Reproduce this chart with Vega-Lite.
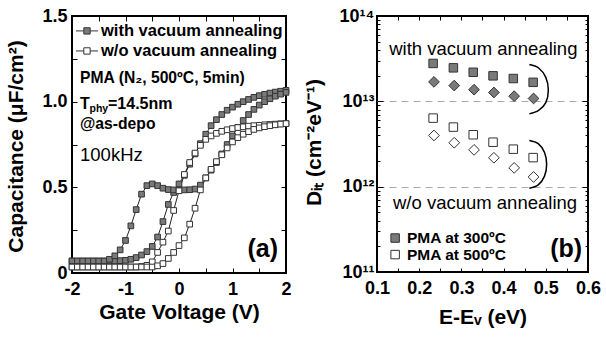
{
"$schema": "https://vega.github.io/schema/vega-lite/v6.json",
"padding": {"left": 3, "top": 6, "right": 4, "bottom": 4},
"background": "white",
"bounds": "flush",
"spacing": 91,
"config": {
 "view": {"stroke": "#000", "strokeWidth": 2},
 "font": "Liberation Sans",
 "axis": {"domain": false, "grid": false, "tickColor": "#000", "tickWidth": 1, "tickSize": -5, "labelFont": "Liberation Sans", "labelFontWeight": "bold", "labelFontSize": 18, "labelColor": "#000", "labelPadding": 10, "titleFont": "Liberation Sans", "titleFontWeight": "bold", "titleFontSize": 21, "titleColor": "#000", "labelOverlap": false, "labelFlush": false},
 "text": {"font": "Liberation Sans", "color": "#000"}
},
"datasets": {
 "cv": [
  {"c":"A","t":"with","V":-2,"C":0.07},{"c":"A","t":"with","V":-1.9,"C":0.07},{"c":"A","t":"with","V":-1.8,"C":0.07},{"c":"A","t":"with","V":-1.7,"C":0.07},{"c":"A","t":"with","V":-1.6,"C":0.07},{"c":"A","t":"with","V":-1.5,"C":0.07},{"c":"A","t":"with","V":-1.4,"C":0.07},{"c":"A","t":"with","V":-1.3,"C":0.07},{"c":"A","t":"with","V":-1.2,"C":0.07},{"c":"A","t":"with","V":-1.1,"C":0.072},{"c":"A","t":"with","V":-1,"C":0.074},{"c":"A","t":"with","V":-0.9,"C":0.08},{"c":"A","t":"with","V":-0.8,"C":0.09},{"c":"A","t":"with","V":-0.7,"C":0.105},{"c":"A","t":"with","V":-0.6,"C":0.125},{"c":"A","t":"with","V":-0.5,"C":0.155},{"c":"A","t":"with","V":-0.4,"C":0.21},{"c":"A","t":"with","V":-0.3,"C":0.3},{"c":"A","t":"with","V":-0.2,"C":0.4},{"c":"A","t":"with","V":-0.1,"C":0.47},{"c":"A","t":"with","V":0,"C":0.52},{"c":"A","t":"with","V":0.1,"C":0.57},{"c":"A","t":"with","V":0.2,"C":0.635},{"c":"A","t":"with","V":0.3,"C":0.695},{"c":"A","t":"with","V":0.4,"C":0.755},{"c":"A","t":"with","V":0.5,"C":0.81},{"c":"A","t":"with","V":0.6,"C":0.86},{"c":"A","t":"with","V":0.7,"C":0.895},{"c":"A","t":"with","V":0.8,"C":0.925},{"c":"A","t":"with","V":0.9,"C":0.95},{"c":"A","t":"with","V":1,"C":0.968},{"c":"A","t":"with","V":1.1,"C":0.985},{"c":"A","t":"with","V":1.2,"C":1.0},{"c":"A","t":"with","V":1.3,"C":1.013},{"c":"A","t":"with","V":1.4,"C":1.025},{"c":"A","t":"with","V":1.5,"C":1.035},{"c":"A","t":"with","V":1.6,"C":1.043},{"c":"A","t":"with","V":1.7,"C":1.05},{"c":"A","t":"with","V":1.8,"C":1.056},{"c":"A","t":"with","V":1.9,"C":1.061},{"c":"A","t":"with","V":2,"C":1.066},
  {"c":"B","t":"with","V":-2,"C":0.07},{"c":"B","t":"with","V":-1.9,"C":0.07},{"c":"B","t":"with","V":-1.8,"C":0.07},{"c":"B","t":"with","V":-1.7,"C":0.07},{"c":"B","t":"with","V":-1.6,"C":0.07},{"c":"B","t":"with","V":-1.5,"C":0.07},{"c":"B","t":"with","V":-1.4,"C":0.07},{"c":"B","t":"with","V":-1.3,"C":0.08},{"c":"B","t":"with","V":-1.2,"C":0.1},{"c":"B","t":"with","V":-1.1,"C":0.135},{"c":"B","t":"with","V":-1,"C":0.19},{"c":"B","t":"with","V":-0.9,"C":0.275},{"c":"B","t":"with","V":-0.8,"C":0.37},{"c":"B","t":"with","V":-0.7,"C":0.46},{"c":"B","t":"with","V":-0.6,"C":0.51},{"c":"B","t":"with","V":-0.5,"C":0.52},{"c":"B","t":"with","V":-0.4,"C":0.51},{"c":"B","t":"with","V":-0.3,"C":0.495},{"c":"B","t":"with","V":-0.2,"C":0.487},{"c":"B","t":"with","V":-0.1,"C":0.485},{"c":"B","t":"with","V":0,"C":0.485},{"c":"B","t":"with","V":0.1,"C":0.485},{"c":"B","t":"with","V":0.2,"C":0.486},{"c":"B","t":"with","V":0.3,"C":0.49},{"c":"B","t":"with","V":0.4,"C":0.513},{"c":"B","t":"with","V":0.5,"C":0.555},{"c":"B","t":"with","V":0.6,"C":0.6},{"c":"B","t":"with","V":0.7,"C":0.645},{"c":"B","t":"with","V":0.8,"C":0.695},{"c":"B","t":"with","V":0.9,"C":0.75},{"c":"B","t":"with","V":1,"C":0.8},{"c":"B","t":"with","V":1.1,"C":0.85},{"c":"B","t":"with","V":1.2,"C":0.89},{"c":"B","t":"with","V":1.3,"C":0.925},{"c":"B","t":"with","V":1.4,"C":0.955},{"c":"B","t":"with","V":1.5,"C":0.98},{"c":"B","t":"with","V":1.6,"C":1.0},{"c":"B","t":"with","V":1.7,"C":1.017},{"c":"B","t":"with","V":1.8,"C":1.032},{"c":"B","t":"with","V":1.9,"C":1.044},{"c":"B","t":"with","V":2,"C":1.054},
  {"c":"C","t":"w/o","V":-2,"C":0.035},{"c":"C","t":"w/o","V":-1.9,"C":0.035},{"c":"C","t":"w/o","V":-1.8,"C":0.035},{"c":"C","t":"w/o","V":-1.7,"C":0.035},{"c":"C","t":"w/o","V":-1.6,"C":0.035},{"c":"C","t":"w/o","V":-1.5,"C":0.035},{"c":"C","t":"w/o","V":-1.4,"C":0.035},{"c":"C","t":"w/o","V":-1.3,"C":0.035},{"c":"C","t":"w/o","V":-1.2,"C":0.035},{"c":"C","t":"w/o","V":-1.1,"C":0.035},{"c":"C","t":"w/o","V":-1,"C":0.035},{"c":"C","t":"w/o","V":-0.9,"C":0.035},{"c":"C","t":"w/o","V":-0.8,"C":0.035},{"c":"C","t":"w/o","V":-0.7,"C":0.038},{"c":"C","t":"w/o","V":-0.6,"C":0.045},{"c":"C","t":"w/o","V":-0.5,"C":0.065},{"c":"C","t":"w/o","V":-0.4,"C":0.12},{"c":"C","t":"w/o","V":-0.3,"C":0.18},{"c":"C","t":"w/o","V":-0.2,"C":0.245},{"c":"C","t":"w/o","V":-0.1,"C":0.365},{"c":"C","t":"w/o","V":0,"C":0.48},{"c":"C","t":"w/o","V":0.1,"C":0.575},{"c":"C","t":"w/o","V":0.2,"C":0.645},{"c":"C","t":"w/o","V":0.3,"C":0.7},{"c":"C","t":"w/o","V":0.4,"C":0.745},{"c":"C","t":"w/o","V":0.5,"C":0.78},{"c":"C","t":"w/o","V":0.6,"C":0.8},{"c":"C","t":"w/o","V":0.7,"C":0.815},{"c":"C","t":"w/o","V":0.8,"C":0.827},{"c":"C","t":"w/o","V":0.9,"C":0.836},{"c":"C","t":"w/o","V":1,"C":0.843},{"c":"C","t":"w/o","V":1.1,"C":0.849},{"c":"C","t":"w/o","V":1.2,"C":0.853},{"c":"C","t":"w/o","V":1.3,"C":0.857},{"c":"C","t":"w/o","V":1.4,"C":0.86},{"c":"C","t":"w/o","V":1.5,"C":0.862},{"c":"C","t":"w/o","V":1.6,"C":0.865},{"c":"C","t":"w/o","V":1.7,"C":0.867},{"c":"C","t":"w/o","V":1.8,"C":0.869},{"c":"C","t":"w/o","V":1.9,"C":0.871},{"c":"C","t":"w/o","V":2,"C":0.873},
  {"c":"D","t":"w/o","V":-2,"C":0.035},{"c":"D","t":"w/o","V":-1.9,"C":0.035},{"c":"D","t":"w/o","V":-1.8,"C":0.035},{"c":"D","t":"w/o","V":-1.7,"C":0.035},{"c":"D","t":"w/o","V":-1.6,"C":0.035},{"c":"D","t":"w/o","V":-1.5,"C":0.035},{"c":"D","t":"w/o","V":-1.4,"C":0.035},{"c":"D","t":"w/o","V":-1.3,"C":0.035},{"c":"D","t":"w/o","V":-1.2,"C":0.035},{"c":"D","t":"w/o","V":-1.1,"C":0.035},{"c":"D","t":"w/o","V":-1,"C":0.035},{"c":"D","t":"w/o","V":-0.9,"C":0.035},{"c":"D","t":"w/o","V":-0.8,"C":0.035},{"c":"D","t":"w/o","V":-0.7,"C":0.035},{"c":"D","t":"w/o","V":-0.6,"C":0.035},{"c":"D","t":"w/o","V":-0.5,"C":0.035},{"c":"D","t":"w/o","V":-0.4,"C":0.042},{"c":"D","t":"w/o","V":-0.3,"C":0.055},{"c":"D","t":"w/o","V":-0.2,"C":0.085},{"c":"D","t":"w/o","V":-0.1,"C":0.12},{"c":"D","t":"w/o","V":0,"C":0.16},{"c":"D","t":"w/o","V":0.1,"C":0.205},{"c":"D","t":"w/o","V":0.2,"C":0.285},{"c":"D","t":"w/o","V":0.3,"C":0.378},{"c":"D","t":"w/o","V":0.4,"C":0.485},{"c":"D","t":"w/o","V":0.5,"C":0.555},{"c":"D","t":"w/o","V":0.6,"C":0.605},{"c":"D","t":"w/o","V":0.7,"C":0.65},{"c":"D","t":"w/o","V":0.8,"C":0.69},{"c":"D","t":"w/o","V":0.9,"C":0.73},{"c":"D","t":"w/o","V":1,"C":0.765},{"c":"D","t":"w/o","V":1.1,"C":0.79},{"c":"D","t":"w/o","V":1.2,"C":0.81},{"c":"D","t":"w/o","V":1.3,"C":0.825},{"c":"D","t":"w/o","V":1.4,"C":0.838},{"c":"D","t":"w/o","V":1.5,"C":0.847},{"c":"D","t":"w/o","V":1.6,"C":0.854},{"c":"D","t":"w/o","V":1.7,"C":0.86},{"c":"D","t":"w/o","V":1.8,"C":0.865},{"c":"D","t":"w/o","V":1.9,"C":0.869},{"c":"D","t":"w/o","V":2,"C":0.872}
 ],
 "legA": [
  {"t":"with","V":-1.925,"V2":-1.514,"Vm":-1.72,"C":1.413,"label":"with vacuum annealing","Vt":-1.458},
  {"t":"w/o","V":-1.925,"V2":-1.514,"Vm":-1.72,"C":1.296,"label":"w/o vacuum annealing","Vt":-1.458}
 ],
 "annA": [
  {"V":-1.85,"C":1.138,"label":"PMA (N₂, 500ºC, 5min)"},
  {"V":-1.85,"C":0.87,"label":"@as-depo"}
 ],
 "tphy": [{"V":-1.85,"C":0.987,"T":"T","sub":"phy","rest":"=14.5nm"}],
 "khz": [{"V":-1.85,"C":0.689,"label":"100kHz"}],
 "pa": [{"V":1.85,"C":0.14,"label":"(a)"}],
 "dit": [
  {"t":"with","s":"square","E":0.233,"D":2.78e13},{"t":"with","s":"square","E":0.281,"D":2.47e13},{"t":"with","s":"square","E":0.328,"D":2.19e13},{"t":"with","s":"square","E":0.375,"D":1.99e13},{"t":"with","s":"square","E":0.423,"D":1.85e13},{"t":"with","s":"square","E":0.47,"D":1.67e13},
  {"t":"with","s":"diamond","E":0.235,"D":1.69e13},{"t":"with","s":"diamond","E":0.283,"D":1.53e13},{"t":"with","s":"diamond","E":0.33,"D":1.37e13},{"t":"with","s":"diamond","E":0.377,"D":1.27e13},{"t":"with","s":"diamond","E":0.425,"D":1.15e13},{"t":"with","s":"diamond","E":0.471,"D":1.08e13},
  {"t":"w/o","s":"square","E":0.233,"D":6.36e12},{"t":"w/o","s":"square","E":0.281,"D":4.99e12},{"t":"w/o","s":"square","E":0.328,"D":4.06e12},{"t":"w/o","s":"square","E":0.375,"D":3.32e12},{"t":"w/o","s":"square","E":0.423,"D":2.75e12},{"t":"w/o","s":"square","E":0.47,"D":2.19e12},
  {"t":"w/o","s":"diamond","E":0.235,"D":3.98e12},{"t":"w/o","s":"diamond","E":0.283,"D":3.27e12},{"t":"w/o","s":"diamond","E":0.33,"D":2.7e12},{"t":"w/o","s":"diamond","E":0.377,"D":2.18e12},{"t":"w/o","s":"diamond","E":0.425,"D":1.66e12},{"t":"w/o","s":"diamond","E":0.471,"D":1.3e12}
 ],
 "br": [
  {"g":1,"o":1,"E":0.461,"D":2.7e13},{"g":1,"o":2,"E":0.483,"D":2.46e13},{"g":1,"o":3,"E":0.5,"D":1.91e13},{"g":1,"o":4,"E":0.506,"D":1.36e13},{"g":1,"o":5,"E":0.5,"D":9.64e12},{"g":1,"o":6,"E":0.483,"D":7.82e12},{"g":1,"o":7,"E":0.461,"D":7.13e12},
  {"g":2,"o":1,"E":0.461,"D":3.48e12},{"g":2,"o":2,"E":0.482,"D":3.19e12},{"g":2,"o":3,"E":0.497,"D":2.52e12},{"g":2,"o":4,"E":0.502,"D":1.83e12},{"g":2,"o":5,"E":0.497,"D":1.33e12},{"g":2,"o":6,"E":0.482,"D":1.05e12},{"g":2,"o":7,"E":0.461,"D":9.6e11}
 ],
 "annB": [
  {"E":0.352,"D":4.1e13,"label":"with vacuum annealing"},
  {"E":0.356,"D":6.43e11,"label":"w/o vacuum annealing"}
 ],
 "legB": [
  {"t":"with","E":0.143,"Et":0.171,"D":2.5e11,"label":"PMA at 300ºC"},
  {"t":"w/o","E":0.143,"Et":0.171,"D":1.6e11,"label":"PMA at 500ºC"}
 ],
 "pb": [{"E":0.586,"D":1.85e11,"label":"(b)"}]
},
"hconcat": [
 {
  "width": 214, "height": 257,
  "resolve": {"axis": {"x": "independent", "y": "independent"}},
  "layer": [
   {"data": {"name": "cv"}, "mark": {"type": "line", "color": "#222", "strokeWidth": 1},
    "encoding": {
     "x": {"field": "V", "type": "quantitative", "scale": {"domain": [-2, 2], "nice": false, "zero": false},
       "axis": {"orient": "bottom", "values": [-2,-1.5,-1,-0.5,0,0.5,1,1.5,2], "labelExpr": "datum.value % 1 === 0 ? toString(datum.value) : ''", "labelPadding": 12, "title": "Gate Voltage (V)", "titleY": 39, "titleBaseline": "middle"}},
     "y": {"field": "C", "type": "quantitative", "scale": {"domain": [0, 1.5], "nice": false, "zero": false},
       "axis": {"orient": "left", "values": [0,0.25,0.5,0.75,1,1.25,1.5], "labelExpr": "datum.value === 0 ? '0' : (datum.value * 2) % 1 === 0 ? format(datum.value, '.1f') : ''", "labelPadding": 10, "title": "Capacitance (μF/cm²)", "titleX": -56, "titleY": 130, "titleBaseline": "middle", "titleAlign": "center", "titleAngle": 270}},
     "detail": {"field": "c"}
    }},
   {"data": {"name": "cv"}, "mark": {"type": "point", "shape": "square", "filled": true, "size": 32, "stroke": "#333", "strokeWidth": 1, "opacity": 1},
    "encoding": {
     "x": {"field": "V", "type": "quantitative", "scale": {"domain": [-2, 2], "nice": false, "zero": false}, "axis": null},
     "y": {"field": "C", "type": "quantitative", "scale": {"domain": [0, 1.5], "nice": false, "zero": false}, "axis": null},
     "fill": {"field": "t", "type": "nominal", "scale": {"domain": ["with", "w/o"], "range": ["#7a7a7a", "#ffffff"]}, "legend": null}
    }},
   {"data": {"name": "legA"}, "mark": {"type": "rule", "color": "#333", "strokeWidth": 1},
    "encoding": {
     "x": {"field": "V", "type": "quantitative", "scale": {"domain": [-2, 2], "nice": false, "zero": false},
       "axis": {"orient": "top", "values": [-2,-1.5,-1,-0.5,0,0.5,1,1.5,2], "labels": false, "title": null}},
     "x2": {"field": "V2"},
     "y": {"field": "C", "type": "quantitative", "scale": {"domain": [0, 1.5], "nice": false, "zero": false},
       "axis": {"orient": "right", "values": [0,0.25,0.5,0.75,1,1.25,1.5], "labels": false, "title": null}}
    }},
   {"data": {"name": "legA"}, "mark": {"type": "point", "shape": "square", "filled": true, "size": 40, "stroke": "#333", "strokeWidth": 1, "opacity": 1},
    "encoding": {
     "x": {"field": "Vm", "type": "quantitative", "axis": null},
     "y": {"field": "C", "type": "quantitative", "axis": null},
     "fill": {"field": "t", "type": "nominal", "scale": {"domain": ["with", "w/o"], "range": ["#7a7a7a", "#ffffff"]}, "legend": null}
    }},
   {"data": {"name": "legA"}, "mark": {"type": "text", "align": "left", "baseline": "middle", "fontSize": 16.5, "fontWeight": "bold"},
    "encoding": {"x": {"field": "Vt", "type": "quantitative", "axis": null}, "y": {"field": "C", "type": "quantitative", "axis": null}, "text": {"field": "label"}}},
   {"data": {"name": "annA"}, "mark": {"type": "text", "align": "left", "baseline": "middle", "fontSize": 15.7, "fontWeight": "bold"},
    "encoding": {"x": {"field": "V", "type": "quantitative", "axis": null}, "y": {"field": "C", "type": "quantitative", "axis": null}, "text": {"field": "label"}}},
   {"data": {"name": "tphy"}, "mark": {"type": "text", "align": "left", "baseline": "middle", "fontSize": 16, "fontWeight": "bold"},
    "encoding": {"x": {"field": "V", "type": "quantitative", "axis": null}, "y": {"field": "C", "type": "quantitative", "axis": null}, "text": {"field": "T"}}},
   {"data": {"name": "tphy"}, "mark": {"type": "text", "align": "left", "baseline": "middle", "fontSize": 10.5, "fontWeight": "bold", "dx": 9.5, "dy": 5},
    "encoding": {"x": {"field": "V", "type": "quantitative", "axis": null}, "y": {"field": "C", "type": "quantitative", "axis": null}, "text": {"field": "sub"}}},
   {"data": {"name": "tphy"}, "mark": {"type": "text", "align": "left", "baseline": "middle", "fontSize": 16, "fontWeight": "bold", "dx": 28},
    "encoding": {"x": {"field": "V", "type": "quantitative", "axis": null}, "y": {"field": "C", "type": "quantitative", "axis": null}, "text": {"field": "rest"}}},
   {"data": {"name": "khz"}, "mark": {"type": "text", "align": "left", "baseline": "middle", "fontSize": 18.5, "fontWeight": "normal"},
    "encoding": {"x": {"field": "V", "type": "quantitative", "axis": null}, "y": {"field": "C", "type": "quantitative", "axis": null}, "text": {"field": "label"}}},
   {"data": {"name": "pa"}, "mark": {"type": "text", "align": "right", "baseline": "middle", "fontSize": 25, "fontWeight": "bold"},
    "encoding": {"x": {"field": "V", "type": "quantitative", "axis": null}, "y": {"field": "C", "type": "quantitative", "axis": null}, "text": {"field": "label"}}}
  ]
 },
 {
  "width": 211, "height": 256,
  "resolve": {"axis": {"x": "independent", "y": "independent"}},
  "layer": [
   {"data": {"name": "dit"}, "transform": [{"filter": "datum.s === 'square'"}],
    "mark": {"type": "point", "shape": "square", "filled": true, "size": 72, "stroke": "#333", "strokeWidth": 1, "opacity": 1},
    "encoding": {
     "x": {"field": "E", "type": "quantitative", "scale": {"domain": [0.1, 0.6], "nice": false, "zero": false},
       "axis": {"orient": "bottom", "values": [0.1,0.15,0.2,0.25,0.3,0.35,0.4,0.45,0.5,0.55,0.6], "tickSize": -4, "labelPadding": 11, "labelExpr": "abs(datum.value*10 - round(datum.value*10)) < 0.001 ? format(datum.value, '.1f') : ''", "title": "E-Eᵥ (eV)", "titleY": 45, "titleBaseline": "middle"}},
     "y": {"field": "D", "type": "quantitative", "scale": {"type": "log", "domain": [1e11, 1e14], "nice": false},
       "axis": {"orient": "left", "values": [1e11,2e11,3e11,4e11,5e11,6e11,7e11,8e11,9e11,1e12,2e12,3e12,4e12,5e12,6e12,7e12,8e12,9e12,1e13,2e13,3e13,4e13,5e13,6e13,7e13,8e13,9e13,1e14],
         "labelExpr": "datum.value == 1e11 ? '10¹¹' : datum.value == 1e12 ? '10¹²' : datum.value == 1e13 ? '10¹³' : datum.value == 1e14 ? '10¹⁴' : ''",
         "tickSize": {"condition": {"test": "datum.value == 1e11 || datum.value == 1e12 || datum.value == 1e13 || datum.value == 1e14", "value": -6}, "value": -3},
         "labelPadding": 9,
         "grid": true, "gridDash": [7, 5], "gridColor": "#aaaaaa", "gridWidth": 1,
         "gridOpacity": {"condition": {"test": "datum.value == 1e12 || datum.value == 1e13", "value": 1}, "value": 0},
         "title": "Dᵢₜ (cm⁻²eV⁻¹)", "titleX": -63, "titleY": 126, "titleBaseline": "middle", "titleAlign": "center", "titleAngle": 270}},
     "fill": {"field": "t", "type": "nominal", "scale": {"domain": ["with", "w/o"], "range": ["#7a7a7a", "#ffffff"]}, "legend": null}
    }},
   {"data": {"name": "dit"}, "transform": [{"filter": "datum.s === 'diamond'"}],
    "mark": {"type": "point", "shape": "diamond", "filled": true, "size": 115, "stroke": "#333", "strokeWidth": 1, "opacity": 1},
    "encoding": {
     "x": {"field": "E", "type": "quantitative", "axis": null},
     "y": {"field": "D", "type": "quantitative", "axis": null},
     "fill": {"field": "t", "type": "nominal", "scale": {"domain": ["with", "w/o"], "range": ["#7a7a7a", "#ffffff"]}, "legend": null}
    }},
   {"data": {"name": "br"}, "mark": {"type": "line", "color": "#000", "strokeWidth": 1.5, "interpolate": "cardinal"},
    "encoding": {
     "x": {"field": "E", "type": "quantitative", "axis": {"orient": "top", "values": [0.1,0.15,0.2,0.25,0.3,0.35,0.4,0.45,0.5,0.55,0.6], "tickSize": -4, "labels": false, "title": null}},
     "y": {"field": "D", "type": "quantitative", "axis": {"orient": "right", "values": [1e11,2e11,3e11,4e11,5e11,6e11,7e11,8e11,9e11,1e12,2e12,3e12,4e12,5e12,6e12,7e12,8e12,9e12,1e13,2e13,3e13,4e13,5e13,6e13,7e13,8e13,9e13,1e14], "labels": false, "title": null,
        "tickSize": {"condition": {"test": "datum.value == 1e11 || datum.value == 1e12 || datum.value == 1e13 || datum.value == 1e14", "value": -6}, "value": -3}}},
     "detail": {"field": "g"},
     "order": {"field": "o", "type": "quantitative"}
    }},
   {"data": {"name": "annB"}, "mark": {"type": "text", "align": "center", "baseline": "middle", "fontSize": 18.5, "fontWeight": "normal"},
    "encoding": {"x": {"field": "E", "type": "quantitative", "axis": null}, "y": {"field": "D", "type": "quantitative", "axis": null}, "text": {"field": "label"}}},
   {"data": {"name": "legB"}, "mark": {"type": "point", "shape": "square", "filled": true, "size": 72, "stroke": "#333", "strokeWidth": 1, "opacity": 1},
    "encoding": {
     "x": {"field": "E", "type": "quantitative", "axis": null},
     "y": {"field": "D", "type": "quantitative", "axis": null},
     "fill": {"field": "t", "type": "nominal", "scale": {"domain": ["with", "w/o"], "range": ["#7a7a7a", "#ffffff"]}, "legend": null}
    }},
   {"data": {"name": "legB"}, "mark": {"type": "text", "align": "left", "baseline": "middle", "fontSize": 15.5, "fontWeight": "bold"},
    "encoding": {"x": {"field": "Et", "type": "quantitative", "axis": null}, "y": {"field": "D", "type": "quantitative", "axis": null}, "text": {"field": "label"}}},
   {"data": {"name": "pb"}, "mark": {"type": "text", "align": "right", "baseline": "middle", "fontSize": 25, "fontWeight": "bold"},
    "encoding": {"x": {"field": "E", "type": "quantitative", "axis": null}, "y": {"field": "D", "type": "quantitative", "axis": null}, "text": {"field": "label"}}}
  ]
 }
]
}
